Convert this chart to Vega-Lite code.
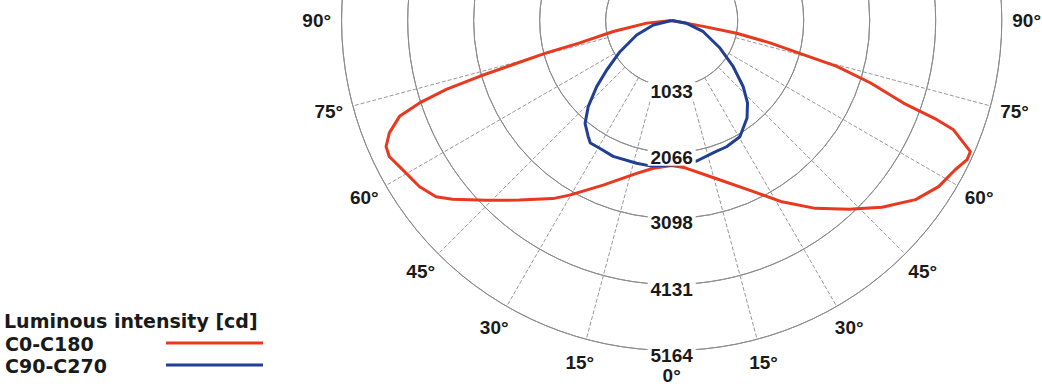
{
  "$schema": "https://vega.github.io/schema/vega-lite/v6.json",
  "width": 1042,
  "height": 389,
  "padding": 0,
  "autosize": {"type": "none"},
  "background": "white",
  "config": {"view": {"stroke": null}, "font": "Liberation Sans"},
  "datasets": {
    "curves": [
      {"series": "C0-C180", "g": -90, "cd": 0},
      {"series": "C0-C180", "g": -84, "cd": 393},
      {"series": "C0-C180", "g": -79.3, "cd": 930},
      {"series": "C0-C180", "g": -76.3, "cd": 1480},
      {"series": "C0-C180", "g": -75.5, "cd": 2025},
      {"series": "C0-C180", "g": -74.5, "cd": 2575},
      {"series": "C0-C180", "g": -73.8, "cd": 3128},
      {"series": "C0-C180", "g": -73.0, "cd": 3688},
      {"series": "C0-C180", "g": -71.9, "cd": 4150},
      {"series": "C0-C180", "g": -70.6, "cd": 4515},
      {"series": "C0-C180", "g": -68.3, "cd": 4755},
      {"series": "C0-C180", "g": -66.2, "cd": 4885},
      {"series": "C0-C180", "g": -64.3, "cd": 4905},
      {"series": "C0-C180", "g": -61.0, "cd": 4815},
      {"series": "C0-C180", "g": -56.6, "cd": 4725},
      {"series": "C0-C180", "g": -53.2, "cd": 4605},
      {"series": "C0-C180", "g": -50.8, "cd": 4425},
      {"series": "C0-C180", "g": -45.9, "cd": 4040},
      {"series": "C0-C180", "g": -40.3, "cd": 3685},
      {"series": "C0-C180", "g": -33.7, "cd": 3350},
      {"series": "C0-C180", "g": -30.3, "cd": 3165},
      {"series": "C0-C180", "g": -22.6, "cd": 2790},
      {"series": "C0-C180", "g": -12.9, "cd": 2455},
      {"series": "C0-C180", "g": -7.1, "cd": 2330},
      {"series": "C0-C180", "g": 0, "cd": 2270},
      {"series": "C0-C180", "g": 5.2, "cd": 2315},
      {"series": "C0-C180", "g": 15.4, "cd": 2560},
      {"series": "C0-C180", "g": 24.4, "cd": 2910},
      {"series": "C0-C180", "g": 31.3, "cd": 3320},
      {"series": "C0-C180", "g": 37.4, "cd": 3700},
      {"series": "C0-C180", "g": 43.2, "cd": 4050},
      {"series": "C0-C180", "g": 48.4, "cd": 4400},
      {"series": "C0-C180", "g": 53.7, "cd": 4735},
      {"series": "C0-C180", "g": 58.1, "cd": 4920},
      {"series": "C0-C180", "g": 62.3, "cd": 5015},
      {"series": "C0-C180", "g": 64.8, "cd": 5110},
      {"series": "C0-C180", "g": 66.3, "cd": 5105},
      {"series": "C0-C180", "g": 68.8, "cd": 4730},
      {"series": "C0-C180", "g": 69.5, "cd": 4432},
      {"series": "C0-C180", "g": 70.4, "cd": 3850},
      {"series": "C0-C180", "g": 72.6, "cd": 3256},
      {"series": "C0-C180", "g": 74.5, "cd": 2682},
      {"series": "C0-C180", "g": 75.5, "cd": 2128},
      {"series": "C0-C180", "g": 77.2, "cd": 1578},
      {"series": "C0-C180", "g": 78.9, "cd": 1036},
      {"series": "C0-C180", "g": 79.5, "cd": 504},
      {"series": "C0-C180", "g": 90, "cd": 0},
      {"series": "C90-C270", "g": -90, "cd": 0},
      {"series": "C90-C270", "g": -76.3, "cd": 296},
      {"series": "C90-C270", "g": -67.5, "cd": 593},
      {"series": "C90-C270", "g": -58.9, "cd": 945},
      {"series": "C90-C270", "g": -52.7, "cd": 1278},
      {"series": "C90-C270", "g": -48.6, "cd": 1565},
      {"series": "C90-C270", "g": -44.1, "cd": 1877},
      {"series": "C90-C270", "g": -40.1, "cd": 2104},
      {"series": "C90-C270", "g": -35.7, "cd": 2238},
      {"series": "C90-C270", "g": -33.6, "cd": 2300},
      {"series": "C90-C270", "g": -29.4, "cd": 2295},
      {"series": "C90-C270", "g": -23.3, "cd": 2315},
      {"series": "C90-C270", "g": -13.8, "cd": 2300},
      {"series": "C90-C270", "g": -8.5, "cd": 2300},
      {"series": "C90-C270", "g": 0, "cd": 2260},
      {"series": "C90-C270", "g": 4.5, "cd": 2260},
      {"series": "C90-C270", "g": 10.1, "cd": 2233},
      {"series": "C90-C270", "g": 18.3, "cd": 2166},
      {"series": "C90-C270", "g": 23.5, "cd": 2154},
      {"series": "C90-C270", "g": 30.4, "cd": 2109},
      {"series": "C90-C270", "g": 37.7, "cd": 1928},
      {"series": "C90-C270", "g": 42.6, "cd": 1753},
      {"series": "C90-C270", "g": 47.2, "cd": 1526},
      {"series": "C90-C270", "g": 53.1, "cd": 1205},
      {"series": "C90-C270", "g": 60.3, "cd": 870},
      {"series": "C90-C270", "g": 70.5, "cd": 525},
      {"series": "C90-C270", "g": 79.4, "cd": 239},
      {"series": "C90-C270", "g": 90, "cd": 0}
    ],
    "rings": [{"cd": 1033}, {"cd": 2066}, {"cd": 3098}, {"cd": 4131}, {"cd": 5164}],
    "spokes": [
      {"g": -75}, {"g": -60}, {"g": -45}, {"g": -30}, {"g": -15},
      {"g": 15}, {"g": 30}, {"g": 45}, {"g": 60}, {"g": 75}
    ],
    "angles": [
      {"label": "90°", "g": -90}, {"label": "75°", "g": -75}, {"label": "60°", "g": -60},
      {"label": "45°", "g": -45}, {"label": "30°", "g": -30}, {"label": "15°", "g": -15},
      {"label": "0°", "g": 0},
      {"label": "15°", "g": 15}, {"label": "30°", "g": 30}, {"label": "45°", "g": 45},
      {"label": "60°", "g": 60}, {"label": "75°", "g": 75}, {"label": "90°", "g": 90}
    ]
  },
  "layer": [
    {
      "data": {"name": "rings"},
      "mark": {"type": "arc", "filled": false, "stroke": "#8c8c8c", "strokeWidth": 1},
      "encoding": {
        "x": {"datum": 0, "type": "quantitative", "scale": {"domain": [-10511, 5795], "nice": false, "zero": false}, "axis": null},
        "y": {"datum": 0, "type": "quantitative", "scale": {"domain": [-5766, 320.8], "nice": false, "zero": false}, "axis": null},
        "theta": {"datum": 0, "type": "quantitative", "scale": {"domain": [0, 360], "range": [0, 6.283185]}},
        "theta2": {"datum": 360},
        "radius": {"field": "cd", "type": "quantitative", "scale": {"type": "linear", "domain": [0, 5164], "range": [0, 330], "zero": true}},
        "radius2": {"field": "cd"}
      }
    },
    {
      "data": {"name": "spokes"},
      "transform": [
        {"calculate": "1033*sin(datum.g*PI/180)", "as": "x1"},
        {"calculate": "-1033*cos(datum.g*PI/180)", "as": "y1"},
        {"calculate": "5164*sin(datum.g*PI/180)", "as": "x2"},
        {"calculate": "-5164*cos(datum.g*PI/180)", "as": "y2"}
      ],
      "mark": {"type": "rule", "stroke": "#8c8c8c", "strokeWidth": 0.9, "strokeDash": [4, 2]},
      "encoding": {
        "x": {"field": "x1", "type": "quantitative", "axis": null},
        "y": {"field": "y1", "type": "quantitative", "axis": null},
        "x2": {"field": "x2"},
        "y2": {"field": "y2"}
      }
    },
    {
      "mark": {"type": "rule", "stroke": "#c9c9da", "strokeWidth": 2},
      "encoding": {
        "x": {"datum": -5164, "type": "quantitative", "axis": null},
        "x2": {"datum": 5164},
        "y": {"datum": 0, "type": "quantitative", "axis": null}
      }
    },
    {
      "mark": {"type": "rule", "stroke": "#c9c9da", "strokeWidth": 2},
      "encoding": {
        "x": {"datum": 0, "type": "quantitative", "axis": null},
        "y": {"datum": 400, "type": "quantitative", "axis": null},
        "y2": {"datum": -5164}
      }
    },
    {
      "data": {"name": "curves"},
      "transform": [
        {"calculate": "datum.cd*sin(datum.g*PI/180)", "as": "x"},
        {"calculate": "-datum.cd*cos(datum.g*PI/180)", "as": "y"}
      ],
      "mark": {"type": "line", "strokeWidth": 3, "strokeJoin": "round"},
      "encoding": {
        "x": {"field": "x", "type": "quantitative", "axis": null},
        "y": {"field": "y", "type": "quantitative", "axis": null},
        "order": {"field": "g", "type": "quantitative"},
        "color": {
          "field": "series", "type": "nominal",
          "scale": {"domain": ["C0-C180", "C90-C270"], "range": ["#e8381e", "#203f95"]},
          "legend": {
            "orient": "none", "legendX": 4, "legendY": 313, "padding": 0,
            "title": "Luminous intensity [cd]",
            "titleFont": "DejaVu Sans", "titleFontSize": 19, "titleFontWeight": "bold", "titleColor": "#1a1a1a",
            "titleLimit": 500, "titlePadding": 3,
            "labelFont": "DejaVu Sans", "labelFontSize": 19, "labelFontWeight": "bold", "labelColor": "#1a1a1a",
            "symbolType": "M-9.7,-0.3H9.7", "symbolSize": 100, "symbolStrokeWidth": 3,
            "symbolOffset": 201, "labelOffset": -219, "rowPadding": 2
          }
        }
      }
    },
    {
      "data": {"name": "rings"},
      "transform": [{"calculate": "-datum.cd", "as": "y"}],
      "mark": {"type": "point", "shape": "M-1,-0.2H1V0.55H-1Z", "size": 2304, "filled": true, "color": "white", "opacity": 1, "strokeWidth": 0},
      "encoding": {
        "x": {"datum": 0, "type": "quantitative", "axis": null},
        "y": {"field": "y", "type": "quantitative", "axis": null}
      }
    },
    {
      "data": {"name": "rings"},
      "transform": [{"calculate": "-datum.cd", "as": "y"}],
      "mark": {"type": "text", "font": "Liberation Sans", "fontWeight": "bold", "fontSize": 19, "color": "#1a1a1a", "dy": 5, "baseline": "middle", "align": "center"},
      "encoding": {
        "x": {"datum": 0, "type": "quantitative", "axis": null},
        "y": {"field": "y", "type": "quantitative", "axis": null},
        "text": {"field": "cd", "type": "nominal"}
      }
    },
    {
      "data": {"name": "angles"},
      "transform": [
        {"calculate": "5555*sin(datum.g*PI/180)", "as": "x"},
        {"calculate": "-5555*cos(datum.g*PI/180)", "as": "y"}
      ],
      "mark": {"type": "text", "font": "Liberation Sans", "fontWeight": "bold", "fontSize": 19, "color": "#1a1a1a", "baseline": "middle", "align": "center"},
      "encoding": {
        "x": {"field": "x", "type": "quantitative", "axis": null},
        "y": {"field": "y", "type": "quantitative", "axis": null},
        "text": {"field": "label", "type": "nominal"}
      }
    }
  ]
}
